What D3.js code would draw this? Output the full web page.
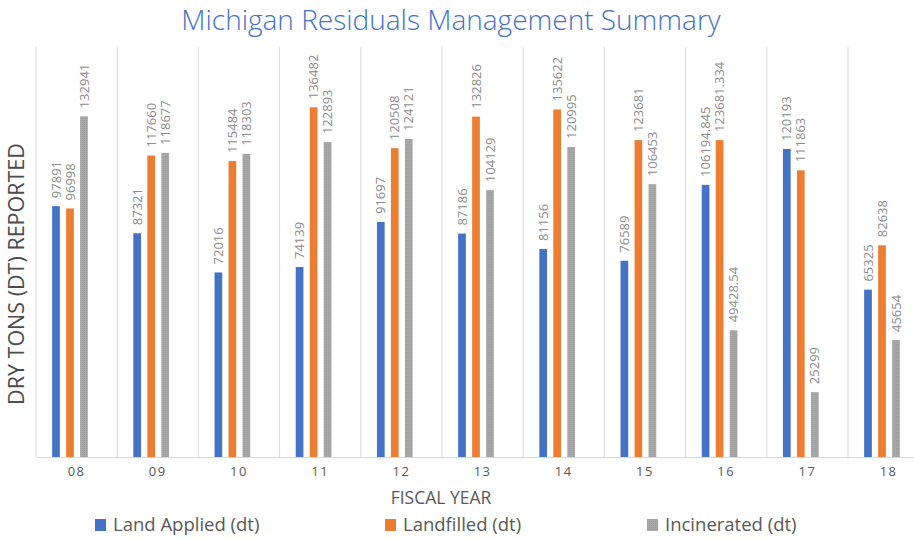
<!DOCTYPE html>
<html>
<head>
<meta charset="utf-8">
<script src="https://cdn.jsdelivr.net/npm/d3@7"></script>
<style>
  body { margin: 0; background: #fff; }
  svg { display: block; font-family: "Open Sans", sans-serif; }
</style>
</head>
<body>
<div id="chart"></div>
<script>
const years = ["08", "09", "10", "11", "12", "13", "14", "15", "16", "17", "18"];
const seriesNames = ["Land Applied (dt)", "Landfilled (dt)", "Incinerated (dt)"];
const landApplied = [97891, 87321, 72016, 74139, 91697, 87186, 81156, 76589, 106194.845, 120193, 65325];
const landfilled = [96998, 117660, 115484, 136482, 120508, 132826, 135622, 123681, 123681.334, 111863, 82638];
const incinerated = [132941, 118677, 118303, 122893, 124121, 104129, 120995, 106453, 49428.54, 25299, 45654];
const colors = ["#4472C4", "#ED7D31", "#A5A5A5"];

const width = 914;
const height = 539;
const margin = { top: 47, left: 36, bottom: 82 };
const bandW = 81.2;

const allSeries = [landApplied, landfilled, incinerated];

const svg = d3.select("#chart")
    .append("svg")
    .attr("width", width)
    .attr("height", height);

// light texture for the grey bars
const defs = svg.append("defs");
const pat = defs.append("pattern")
    .attr("id", "dots")
    .attr("width", 2).attr("height", 2)
    .attr("patternUnits", "userSpaceOnUse");
pat.append("rect").attr("width", 2).attr("height", 2).attr("fill", "#A8A8A8");
pat.append("rect").attr("width", 1).attr("height", 1).attr("fill", "#9c9c9c");

const x0 = d3.scaleBand()
    .domain(years)
    .range([margin.left, margin.left + bandW * years.length]);

const x1 = d3.scaleBand()
    .domain(seriesNames)
    .range([x0.bandwidth() * 0.16, x0.bandwidth() * 0.16 + 42])
    .paddingInner(0.45)
    .paddingOuter(0.225);

const y = d3.scaleLinear()
    .domain([0, 160000])
    .range([height - margin.bottom, margin.top]);

// vertical gridlines between categories
const grid = svg.append("g");
grid.selectAll("line")
    .data(d3.range(years.length + 1))
    .join("line")
    .attr("x1", i => margin.left + i * x0.bandwidth())
    .attr("x2", i => margin.left + i * x0.bandwidth())
    .attr("y1", y(160000))
    .attr("y2", y(0))
    .attr("stroke", "#d9d9d9")
    .attr("stroke-width", 1);

// x axis
const xAxis = svg.append("g")
    .attr("transform", `translate(0, ${y(0)})`)
    .call(d3.axisBottom(x0).tickSize(0).tickPadding(10));
xAxis.select(".domain").attr("stroke", "#d9d9d9");
xAxis.selectAll("text")
    .attr("font-size", "13px")
    .attr("fill", "#595959")
    .attr("letter-spacing", "1.5px")
    .attr("font-family", "Open Sans, sans-serif");

// bars
const groups = svg.append("g")
    .selectAll("g")
    .data(years)
    .join("g")
    .attr("transform", d => `translate(${x0(d)}, 0)`);

const cells = groups.selectAll("g")
    .data((d, i) => seriesNames.map((s, j) => ({ name: s, value: allSeries[j][i], j: j })))
    .join("g");

cells.append("rect")
    .attr("x", d => x1(d.name))
    .attr("y", d => y(d.value))
    .attr("width", x1.bandwidth())
    .attr("height", d => y(0) - y(d.value))
    .attr("fill", d => d.j === 2 ? "url(#dots)" : colors[d.j]);

// data labels
cells.append("text")
    .attr("transform", d => `translate(${x1(d.name) + x1.bandwidth() / 2}, ${y(d.value) - 8}) rotate(-90)`)
    .attr("dy", "0.35em")
    .attr("font-size", "13px")
    .attr("fill", "#8c8c8c")
    .text(d => String(d.value));

// title
svg.append("text")
    .attr("x", 451)
    .attr("y", 30)
    .attr("text-anchor", "middle")
    .attr("font-size", "28px")
    .attr("font-weight", 300)
    .attr("fill", "#4472C4")
    .text("Michigan Residuals Management Summary");

// axis titles
svg.append("text")
    .attr("transform", `translate(16, 274) rotate(-90)`)
    .attr("text-anchor", "middle")
    .attr("dy", "0.35em")
    .attr("font-size", "21.5px")
    .attr("fill", "#4d4d4d")
    .text("DRY TONS (DT) REPORTED");

svg.append("text")
    .attr("x", 441)
    .attr("y", 504)
    .attr("text-anchor", "middle")
    .attr("font-size", "17.5px")
    .attr("fill", "#595959")
    .text("FISCAL YEAR");

// legend
const legendX = [95, 385, 647];
const legend = svg.append("g")
    .selectAll("g")
    .data(seriesNames)
    .join("g")
    .attr("transform", (d, i) => `translate(${legendX[i]}, 525)`);

legend.append("rect")
    .attr("x", 0)
    .attr("y", -6)
    .attr("width", 11)
    .attr("height", 12)
    .attr("fill", (d, i) => i === 2 ? "url(#dots)" : colors[i]);

legend.append("text")
    .attr("x", 18)
    .attr("dy", "0.35em")
    .attr("font-size", "18.5px")
    .attr("fill", "#595959")
    .text(d => d);
</script>
</body>
</html>
